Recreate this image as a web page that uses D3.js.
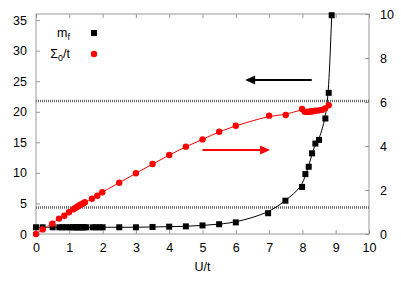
<!DOCTYPE html>
<html>
<head>
<meta charset="utf-8">
<script src="https://cdn.jsdelivr.net/npm/d3@7"></script>
<style>
  body { margin: 0; background: #fff; }
  text { font-family: "Liberation Sans", Arial, sans-serif; }
</style>
</head>
<body>
<div id="chart"></div>
<script>
// m_f (left axis)
const mfU = [0, 0.2, 0.5, 0.7, 0.8, 0.9, 1.0, 1.1, 1.15, 1.2, 1.25, 1.3, 1.35, 1.4, 1.45, 1.5,
  1.7, 1.8, 1.9, 2.0, 2.5, 3.0, 3.5, 4.0, 4.5, 5.0, 5.5, 6.0, 6.97, 7.49, 7.99, 8.09, 8.19, 8.29, 8.39, 8.5, 8.69, 8.79, 8.88]
const mfVal = [1.1, 1.1, 1.1, 1.1, 1.1, 1.1, 1.1, 1.1, 1.1, 1.1, 1.1, 1.1, 1.1, 1.1, 1.1, 1.1,
  1.1, 1.1, 1.1, 1.1, 1.1, 1.1, 1.15, 1.2, 1.25, 1.4, 1.6, 1.9, 3.4, 5.45, 7.7, 9.8, 11.0, 13.2, 14.8, 15.4, 18.9, 23.1, 35.8]

// Sigma_0/t (right axis)
const sigU = [0, 0.2, 0.49, 0.69, 0.85, 0.99, 1.12, 1.17, 1.22, 1.27, 1.32, 1.37, 1.42, 1.47,
  1.68, 1.84, 1.99, 2.5, 3.0, 3.5, 4.0, 4.5, 5.0, 5.5, 6.0, 7.0, 7.5, 7.99, 8.07, 8.15, 8.2, 8.25,
  8.3, 8.35, 8.4, 8.5, 8.58, 8.68, 8.79]
const sigVal = [0, 0.21, 0.47, 0.70, 0.83, 0.99, 1.12, 1.17, 1.22, 1.27, 1.32, 1.36, 1.40, 1.44,
  1.6, 1.74, 1.9, 2.33, 2.76, 3.18, 3.59, 3.97, 4.3, 4.65, 4.92, 5.38, 5.41, 5.68, 5.56, 5.55, 5.56, 5.57,
  5.58, 5.59, 5.6, 5.62, 5.64, 5.71, 5.85]

const xTicks = [0, 1, 2, 3, 4, 5, 6, 7, 8, 9, 10]
const yLeftTicks = [0, 5, 10, 15, 20, 25, 30, 35]
const yRightTicks = [0, 2, 4, 6, 8, 10]
// dotted reference lines (left axis units)
const refLines = [21.75, 4.35]
// arrows: [x from, x to, y]
const blackArrow = [8.28, 6.28, 25.2]   // left axis
const redArrow = [5.0, 7.03, 3.82]      // right axis

const width = 401, height = 281
const mLeft = 36, mRight = 369, mTop = 14, mBottom = 234

const svg = d3.select("#chart").append("svg")
  .attr("width", width)
  .attr("height", height)

const x = d3.scaleLinear([0, 10], [mLeft, mRight])
const yL = d3.scaleLinear([0, 36], [mBottom, mTop])
const yR = d3.scaleLinear([0, 10], [mBottom, mTop])

const frameColor = "#999"

// axes
function styleAxis(g) {
  g.select(".domain").remove()
  g.selectAll(".tick line").attr("stroke", frameColor)
  g.selectAll(".tick text").attr("fill", "#000").attr("font-size", 12.5)
}
svg.append("g")
  .attr("transform", `translate(0,${mBottom})`)
  .call(d3.axisBottom(x).tickValues(xTicks).tickFormat(d3.format("d")).tickSizeInner(-4).tickPadding(9))
  .call(styleAxis)
svg.append("g")
  .attr("transform", `translate(0,${mTop})`)
  .call(d3.axisTop(x).tickValues(xTicks).tickFormat("").tickSizeInner(-4))
  .call(styleAxis)
svg.append("g")
  .attr("transform", `translate(${mLeft},0)`)
  .call(d3.axisLeft(yL).tickValues(yLeftTicks).tickSizeInner(-4).tickPadding(9))
  .call(styleAxis)
svg.append("g")
  .attr("transform", `translate(${mRight},0)`)
  .call(d3.axisRight(yR).tickValues(yRightTicks).tickSizeInner(-4).tickPadding(11))
  .call(styleAxis)

svg.append("rect")
  .attr("x", mLeft).attr("y", mTop)
  .attr("width", mRight - mLeft).attr("height", mBottom - mTop)
  .attr("fill", "none").attr("stroke", frameColor).attr("stroke-width", 1)

// dotted reference lines
svg.selectAll("line.ref")
  .data(refLines)
  .join("line")
  .attr("class", "ref")
  .attr("x1", mLeft).attr("x2", mRight)
  .attr("y1", d => yL(d)).attr("y2", d => yL(d))
  .attr("stroke", "#666")
  .attr("stroke-width", 2.5)
  .attr("stroke-dasharray", "1,1")

const mfData = mfU.map((u, i) => [u, mfVal[i]])
const sigData = sigU.map((u, i) => [u, sigVal[i]])

// smooth curves through the data
svg.append("path")
  .datum(mfData)
  .attr("fill", "none")
  .attr("stroke", "#000")
  .attr("stroke-width", 1)
  .attr("d", d3.line().x(d => x(d[0])).y(d => yL(d[1])).curve(d3.curveBasis))

svg.append("path")
  .datum(sigData)
  .attr("fill", "none")
  .attr("stroke", "#f00")
  .attr("stroke-width", 1)
  .attr("d", d3.line().x(d => x(d[0])).y(d => yR(d[1])).curve(d3.curveBasis))

// markers
const sq = 6
svg.append("g").selectAll("rect")
  .data(mfData)
  .join("rect")
  .attr("x", d => x(d[0]) - sq / 2)
  .attr("y", d => yL(d[1]) - sq / 2)
  .attr("width", sq).attr("height", sq)
  .attr("fill", "#000")

svg.append("g").selectAll("circle")
  .data(sigData)
  .join("circle")
  .attr("cx", d => x(d[0]))
  .attr("cy", d => yR(d[1]))
  .attr("r", 3.2)
  .attr("fill", "#f00")

// arrows
function arrow(x1, x2, y, color) {
  const dir = Math.sign(x2 - x1)
  const hl = 10, hw = 4.5
  svg.append("line")
    .attr("x1", x1).attr("x2", x2 - dir * hl * 0.8)
    .attr("y1", y).attr("y2", y)
    .attr("stroke", color).attr("stroke-width", 2)
  svg.append("path")
    .attr("d", `M${x2},${y}L${x2 - dir * hl},${y - hw}L${x2 - dir * hl},${y + hw}Z`)
    .attr("fill", color)
}
arrow(x(blackArrow[0]), x(blackArrow[1]), yL(blackArrow[2]), "#000")
arrow(x(redArrow[0]), x(redArrow[1]), yR(redArrow[2]), "#f00")

// legend
const legend = svg.append("g").attr("font-size", 12.5)
const t1 = legend.append("text").attr("x", 70).attr("y", 37).attr("text-anchor", "end")
t1.append("tspan").text("m")
t1.append("tspan").attr("font-size", 9).attr("dy", 3).text("f")
legend.append("rect").attr("x", 94 - sq / 2).attr("y", 33 - sq / 2).attr("width", sq).attr("height", sq).attr("fill", "#000")

const t2 = legend.append("text").attr("x", 70).attr("y", 58).attr("text-anchor", "end")
t2.append("tspan").text("Σ")
t2.append("tspan").attr("font-size", 9).attr("dy", 3).text("0")
t2.append("tspan").attr("dy", -3).text("/t")
legend.append("circle").attr("cx", 94).attr("cy", 54).attr("r", 3.2).attr("fill", "#f00")

// axis title
svg.append("text")
  .attr("x", x(5)).attr("y", 271)
  .attr("text-anchor", "middle")
  .attr("font-size", 12.5)
  .text("U/t")
</script>
</body>
</html>
